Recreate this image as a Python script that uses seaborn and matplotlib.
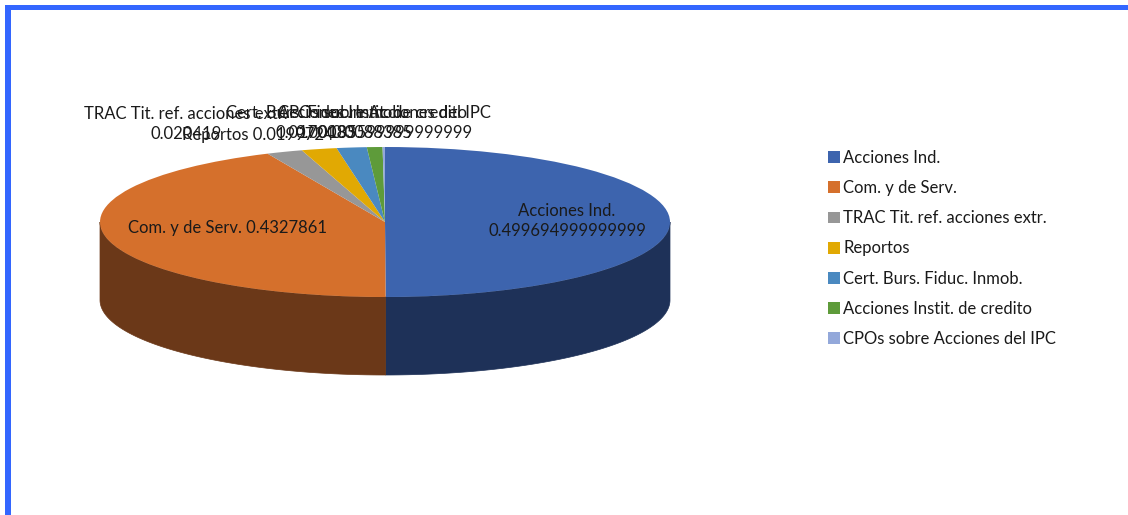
import numpy as np
import matplotlib
matplotlib.use("Agg")
import matplotlib.pyplot as plt
import seaborn as sns
from matplotlib.patches import Polygon, Patch, Rectangle

categories = ["Acciones Ind.", "Com. y de Serv.", "TRAC Tit. ref. acciones extr.",
              "Reportos", "Cert. Burs. Fiduc. Inmob.", "Acciones Instit. de credito",
              "CPOs sobre Acciones del IPC"]
values = [0.499694999999999, 0.4327861, 0.020419, 0.0199724, 0.0170083,
          0.0088385, 0.00135599999999999]
top_colors = ["#3D64AE", "#D5702C", "#979797", "#E1A903", "#4A89C0", "#5E9B3A", "#93A8DA"]
side_colors = ["#1E3158", "#6B3818", "#4D4D4D", "#715502", "#254561", "#2F4E1D", "#4A546D"]

sns.set_theme(style="white")
plt.rcParams["font.family"] = ["Lato", "DejaVu Sans"]

W, H = 1128, 515
cx, cy, a, b, depth = 385, 222, 285, 75, 78

fig = plt.figure(figsize=(W / 100, H / 100), dpi=100)
fig.patch.set_facecolor("white")
ax = fig.add_axes([0, 0, 1, 1])

wedges, _ = ax.pie(values, colors=top_colors, startangle=90, counterclock=False,
                   radius=1, wedgeprops=dict(linewidth=0, zorder=3))
ax.set_aspect("auto")
ax.set_xlim(-cx / a, (W - cx) / a)
ax.set_ylim(-(H - cy) / b, cy / b)
ax.axis("off")

d = depth / b
for w, sc in zip(wedges, side_colors):
    t1, t2 = w.theta1, w.theta2
    for k in (-1, 0, 1):
        lo = max(t1, -180 + 360 * k)
        hi = min(t2, 360 * k)
        if hi > lo:
            ts = np.radians(np.linspace(lo, hi, 300))
            xs, ys = np.cos(ts), np.sin(ts)
            poly = np.concatenate([np.c_[xs, ys], np.c_[xs[::-1], ys[::-1] - d]])
            ax.add_patch(Polygon(poly, closed=True, fc=sc, ec=sc, lw=0.5, zorder=2))

def px(x, y):
    return x / W, 1 - y / H

fs = 12
fmt = [repr(v) for v in values]
label_pos = [(567, 221), (228, 228), (186, 124), (258, 135), (316, 123), (372, 123), (384, 123)]
label_sep = ["\n", " ", "\n", " ", "\n", "\n", "\n"]
for cat, v, (x, y), sep in zip(categories, fmt, label_pos, label_sep):
    fig.text(*px(x, y), f"{cat}{sep}{v}", ha="center", va="center", fontsize=fs,
             color="#1a1a1a", linespacing=1.3, zorder=5)

handles = [Patch(facecolor=c, edgecolor="none") for c in top_colors]
leg = fig.legend(handles, categories, loc="upper left", bbox_to_anchor=px(828, 150),
                 frameon=False, fontsize=fs, handlelength=0.72, handleheight=0.72,
                 handletextpad=0.2, labelspacing=0.85, borderaxespad=0, borderpad=0)
for t in leg.get_texts():
    t.set_color("#1a1a1a")

fig.patches.append(Rectangle((5 / W, 1 - 10 / H), 1, 5 / H, transform=fig.transFigure,
                             fc="#3366FF", ec="none", figure=fig))
fig.patches.append(Rectangle((5 / W, 0), 6 / W, 1 - 5 / H, transform=fig.transFigure,
                             fc="#3366FF", ec="none", figure=fig))

fig.savefig("out.png", dpi=100, facecolor="white")
